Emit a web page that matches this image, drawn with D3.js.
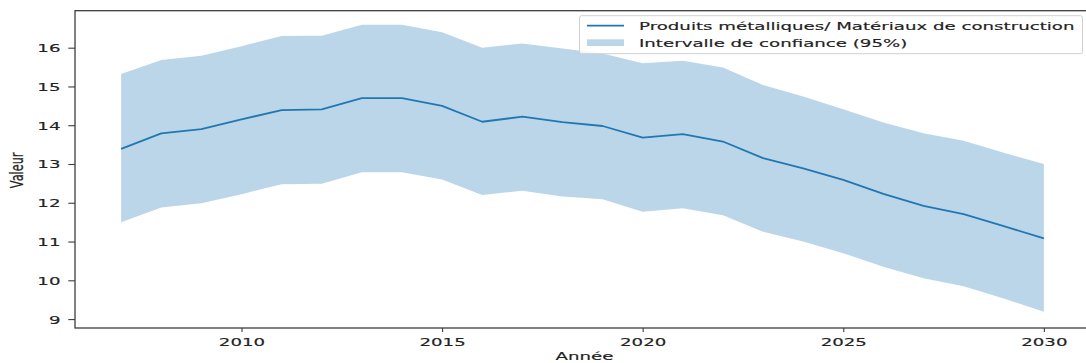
<!DOCTYPE html>
<html>
<head>
<meta charset="utf-8">
<script src="https://cdn.jsdelivr.net/npm/d3@7"></script>
<style>
  html, body { margin: 0; padding: 0; background: #fff; }
  svg { display: block; }
  text { font-family: "DejaVu Sans", sans-serif; fill: #222; stroke: #222; stroke-width: 0.15px; }
</style>
</head>
<body>
<svg id="chart" width="1086" height="363"></svg>
<script>
// Forecast series with its 95% confidence band
const years = [2007, 2008, 2009, 2010, 2011, 2012, 2013, 2014, 2015, 2016, 2017, 2018,
               2019, 2020, 2021, 2022, 2023, 2024, 2025, 2026, 2027, 2028, 2029, 2030];
const meanValues = [13.39, 13.79, 13.90, 14.15, 14.39, 14.41, 14.70, 14.70, 14.50, 14.09, 14.22, 14.08,
                    13.98, 13.68, 13.77, 13.58, 13.15, 12.89, 12.59, 12.23, 11.92, 11.71, 11.40, 11.08];
const upperValues = [15.32, 15.68, 15.79, 16.04, 16.30, 16.31, 16.59, 16.59, 16.40, 16.00, 16.11, 15.98,
                     15.85, 15.60, 15.66, 15.49, 15.04, 14.74, 14.41, 14.07, 13.79, 13.60, 13.29, 13.00];
const lowerValues = [11.50, 11.88, 11.99, 12.22, 12.48, 12.49, 12.79, 12.79, 12.60, 12.20, 12.31, 12.16,
                     12.09, 11.77, 11.86, 11.68, 11.25, 11.00, 10.70, 10.35, 10.05, 9.85, 9.53, 9.19];
const xTicks = [2010, 2015, 2020, 2025, 2030];
const yTicks = [9, 10, 11, 12, 13, 14, 15, 16];
const seriesLabel = "Produits métalliques/ Matériaux de construction";
const bandLabel = "Intervalle de confiance (95%)";
const xTitle = "Année";
const yTitle = "Valeur";

const rows = years.map((y, i) => ({ year: y, mean: meanValues[i], lo: lowerValues[i], hi: upperValues[i] }));

const color = "#1f77b4";
const fontSize = 11.3;
const sx = 1.61;           // horizontal stretch of the text glyphs
const plot = { left: 75, right: 1090, top: 10.7, bottom: 328 };

const svg = d3.select("#chart");

const x = d3.scaleLinear().domain([2005.85, 2031.15]).range([plot.left, plot.right]);
const y = d3.scaleLinear().domain([8.77, 16.954]).range([plot.bottom, plot.top]);

// confidence band
svg.append("path")
  .datum(rows)
  .attr("fill", color)
  .attr("fill-opacity", 0.3)
  .attr("d", d3.area().x(d => x(d.year)).y0(d => y(d.lo)).y1(d => y(d.hi)));

// mean line
svg.append("path")
  .datum(rows)
  .attr("fill", "none")
  .attr("stroke", color)
  .attr("stroke-width", 1.8)
  .attr("stroke-linejoin", "round")
  .attr("d", d3.line().x(d => x(d.year)).y(d => y(d.mean)));

// frame
svg.append("rect")
  .attr("x", plot.left).attr("y", plot.top)
  .attr("width", plot.right - plot.left).attr("height", plot.bottom - plot.top)
  .attr("fill", "none").attr("stroke", "#3d3d3d").attr("stroke-width", 1.3);

// x axis
const gx = svg.append("g")
  .attr("transform", `translate(0,${plot.bottom})`)
  .call(d3.axisBottom(x).tickValues(xTicks).tickFormat(d3.format("d")).tickSize(4).tickSizeOuter(0));
gx.select(".domain").remove();
gx.selectAll(".tick line").attr("stroke", "#3d3d3d").attr("stroke-width", 1.1);
gx.selectAll(".tick text")
  .attr("x", null).attr("y", null).attr("dy", null)
  .attr("transform", `translate(0,17.7) scale(${sx},1)`)
  .attr("text-anchor", "middle")
  .style("font-size", fontSize + "px")
  .style("font-family", "DejaVu Sans")
  .attr("fill", "#222");

// y axis
const gy = svg.append("g")
  .attr("transform", `translate(${plot.left},0)`)
  .call(d3.axisLeft(y).tickValues(yTicks).tickFormat(d3.format("d")).tickSize(6.7).tickSizeOuter(0));
gy.select(".domain").remove();
gy.selectAll(".tick line").attr("stroke", "#3d3d3d").attr("stroke-width", 1.1);
gy.selectAll(".tick text")
  .attr("x", null).attr("y", null).attr("dy", null)
  .attr("transform", `translate(-14.5,4) scale(${sx},1)`)
  .attr("text-anchor", "end")
  .style("font-size", fontSize + "px")
  .style("font-family", "DejaVu Sans")
  .attr("fill", "#222");

// axis titles
svg.append("text")
  .attr("transform", `translate(${(plot.left + plot.right) / 2 + 2},360) scale(${sx},1)`)
  .attr("text-anchor", "middle")
  .style("font-size", fontSize + "px")
  .text(xTitle);

svg.append("text")
  .attr("transform", `translate(22.5,${(plot.top + plot.bottom) / 2 + 1}) scale(${sx},1) rotate(-90)`)
  .attr("text-anchor", "middle")
  .style("font-size", fontSize + "px")
  .text(yTitle);

// legend
const lg = svg.append("g");
lg.append("rect")
  .attr("x", 579.5).attr("y", 15.7).attr("width", 503).attr("height", 38)
  .attr("rx", 2).attr("fill", "#fff").attr("fill-opacity", 0.8)
  .attr("stroke", "#d0d0d0").attr("stroke-width", 1);
lg.append("line")
  .attr("x1", 587).attr("x2", 624).attr("y1", 25.7).attr("y2", 25.7)
  .attr("stroke", color).attr("stroke-width", 1.8);
lg.append("rect")
  .attr("x", 587).attr("y", 39.3).attr("width", 37).attr("height", 6.7)
  .attr("fill", color).attr("fill-opacity", 0.3);
[[seriesLabel, 29.8], [bandLabel, 46.8]].forEach(([t, by]) => {
  lg.append("text")
    .attr("transform", `translate(639,${by}) scale(${sx},1)`)
    .style("font-size", fontSize + "px")
    .text(t);
});
</script>
</body>
</html>
